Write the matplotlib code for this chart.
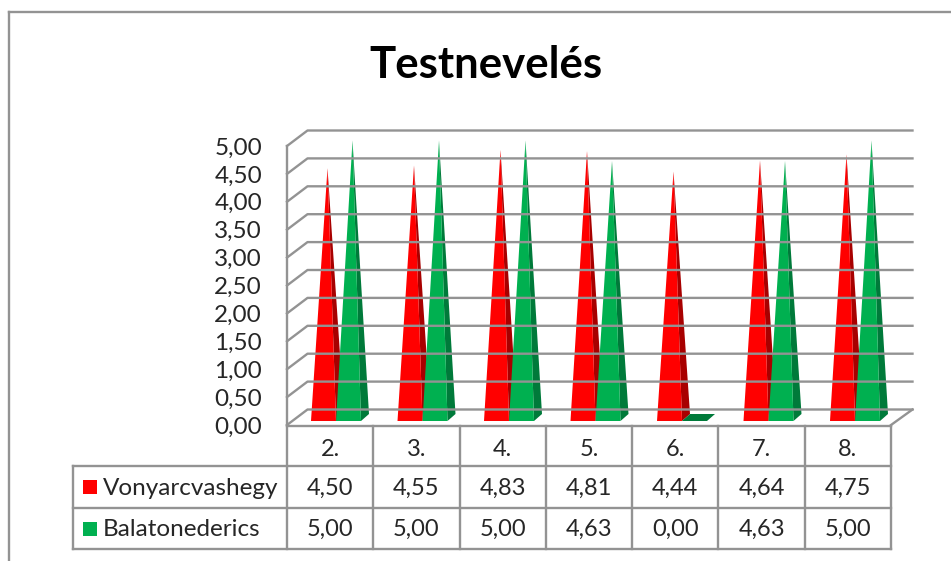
"""Testnevelés - 3D pyramid chart with data table."""

import matplotlib.pyplot as plt
from matplotlib.patches import Polygon, Rectangle

categories = ["2.", "3.", "4.", "5.", "6.", "7.", "8."]
vonyarcvashegy = [4.50, 4.55, 4.83, 4.81, 4.44, 4.64, 4.75]
balatonederics = [5.00, 5.00, 5.00, 4.63, 0.00, 4.63, 5.00]
series_names = ["Vonyarcvashegy", "Balatonederics"]
y_ticks = [0.0, 0.5, 1.0, 1.5, 2.0, 2.5, 3.0, 3.5, 4.0, 4.5, 5.0]

GREY = "#939393"
TEXT = "#262626"
FRONT = ["#ff0000", "#00b050"]
SIDE = ["#a80000", "#007a3a"]
LW = 1.7

# chart geometry, in pixels of the 951x561 picture
LEFT, RIGHT = 287, 891
ZERO_Y, TOP_Y = 425, 146
DEPTH_X, DEPTH_Y = 20.5, -15.5
ROWS_Y = [426, 466, 508, 549]
LABEL_DY = [3, 1, 1]
LEGEND_X = 73
STEP = (RIGHT - LEFT) / len(categories)
BAR_STEP = 86.5
BAR_W = 25
BAR_START = 24
BASE_Y = 421
HEIGHT_PER_UNIT = 55.4

plt.rcParams["font.family"] = ["Lato", "DejaVu Sans"]


def comma(v):
    return f"{v:.2f}".replace(".", ",")


def value_y(v):
    return ZERO_Y - (ZERO_Y - TOP_Y) * v / 5


def pyramid(ax, x, value, front, side):
    dx, dy = 8, -7
    apex = (x + BAR_W / 2 + dx / 2, BASE_Y + dy / 2 - value * HEIGHT_PER_UNIT)
    if value == 0:
        ax.add_patch(Polygon([(x, BASE_Y), (x + BAR_W, BASE_Y), (x + BAR_W + dx, BASE_Y + dy),
                              (x + dx, BASE_Y + dy)], color=side, lw=0))
        return
    ax.add_patch(Polygon([(x + BAR_W, BASE_Y), (x + BAR_W + dx, BASE_Y + dy), apex], color=side, lw=0))
    ax.add_patch(Polygon([(x, BASE_Y), (x + BAR_W, BASE_Y), apex], color=front, lw=0))


fig = plt.figure(figsize=(9.51, 5.61), dpi=100)
ax = fig.add_axes([0, 0, 1, 1])
ax.set_xlim(0, 951)
ax.set_ylim(561, 0)
ax.axis("off")

# outer chart frame
ax.plot([9, 9], [561, 12], color=GREY, lw=LW)
ax.plot([9, 951], [12, 12], color=GREY, lw=LW)

ax.text(486, 65, "Testnevelés", fontsize=31.5, fontweight="bold", color="black",
        ha="center", va="center")

# back walls and gridlines
for v in y_ticks:
    y = value_y(v)
    ax.plot([LEFT, LEFT + DEPTH_X, RIGHT + DEPTH_X + 1], [y, y + DEPTH_Y, y + DEPTH_Y], color=GREY, lw=LW)
    ax.text(262, y + 2, comma(v), fontsize=17.5, color=TEXT, ha="right", va="center")
ax.plot([LEFT, LEFT], [TOP_Y, ZERO_Y], color=GREY, lw=LW)
ax.plot([RIGHT, RIGHT + DEPTH_X + 1], [ZERO_Y, ZERO_Y + DEPTH_Y], color=GREY, lw=LW)

# pyramids
for i in range(len(categories)):
    x = LEFT + BAR_START + i * BAR_STEP
    pyramid(ax, x, vonyarcvashegy[i], FRONT[0], SIDE[0])
    pyramid(ax, x + BAR_W, balatonederics[i], FRONT[1], SIDE[1])

# data table
for i in range(len(categories) + 1):
    x = LEFT + i * STEP
    ax.plot([x, x], [ROWS_Y[0], ROWS_Y[3]], color=GREY, lw=LW)
ax.plot([LEFT, RIGHT], [ROWS_Y[0], ROWS_Y[0]], color=GREY, lw=LW)
for y in ROWS_Y[1:]:
    ax.plot([LEGEND_X, RIGHT], [y, y], color=GREY, lw=LW)
ax.plot([LEGEND_X, LEGEND_X], [ROWS_Y[1], ROWS_Y[3]], color=GREY, lw=LW)

rows = [categories, [comma(v) for v in vonyarcvashegy], [comma(v) for v in balatonederics]]
for r, row in enumerate(rows):
    y = (ROWS_Y[r] + ROWS_Y[r + 1]) / 2 + LABEL_DY[r]
    for i, label in enumerate(row):
        ax.text(LEFT + (i + 0.5) * STEP, y, label, fontsize=17, color=TEXT, ha="center", va="center")

for r, name in enumerate(series_names):
    y = (ROWS_Y[r + 1] + ROWS_Y[r + 2]) / 2
    ax.add_patch(Rectangle((83, y - 7), 14, 14, color=FRONT[r], lw=0))
    ax.text(103, y + 1, name, fontsize=17.5, color=TEXT, ha="left", va="center")

fig.savefig("out.png", dpi=100)
